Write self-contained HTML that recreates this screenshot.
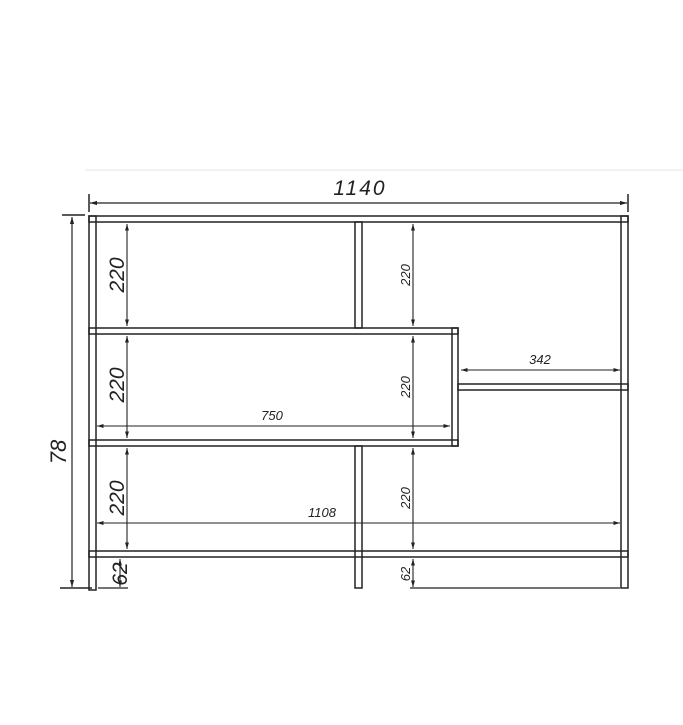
<!DOCTYPE html>
<html><head><style>body{margin:0;background:#fff}</style></head><body>
<svg width="683" height="720" viewBox="0 0 683 720" xmlns="http://www.w3.org/2000/svg" font-family="Liberation Sans, sans-serif" font-style="italic">
<defs>
<marker id="a" viewBox="0 0 10 10" refX="10" refY="5" markerWidth="6" markerHeight="6" orient="auto-start-reverse"><path d="M0,2 L10,5 L0,8 z" fill="#222"/></marker>
</defs>
<line x1="85" y1="170" x2="683" y2="170" stroke="#e6e6e6" stroke-width="1"/>
<g stroke="#222" stroke-width="1.5" fill="none">
<line x1="89" y1="194" x2="89" y2="212"/><line x1="628" y1="194" x2="628" y2="212"/>
<line x1="90" y1="203" x2="627" y2="203" marker-start="url(#a)" marker-end="url(#a)" stroke-width="1.2"/>
<line x1="62" y1="215" x2="85" y2="215"/><line x1="60" y1="588" x2="92" y2="588"/>
<line x1="72" y1="217" x2="72" y2="587" marker-start="url(#a)" marker-end="url(#a)" stroke-width="1.2"/>
<rect x="89" y="216" width="7" height="374"/>
<rect x="621" y="216" width="7" height="372"/>
<rect x="355" y="222" width="7" height="106"/>
<rect x="355" y="446" width="7" height="142"/>
<rect x="452" y="328" width="6" height="118"/>
<rect x="89" y="216" width="539" height="6"/>
<rect x="89" y="328" width="369" height="6"/>
<rect x="89" y="440" width="369" height="6"/>
<rect x="458" y="384" width="170" height="6"/>
<rect x="89" y="551" width="539" height="6"/>
</g>
<g stroke="#222" stroke-width="1.1" fill="none" marker-start="url(#a)" marker-end="url(#a)">
<line x1="127" y1="224" x2="127" y2="326"/><line x1="127" y1="336" x2="127" y2="438"/><line x1="127" y1="448" x2="127" y2="549"/>
<line x1="413" y1="224" x2="413" y2="326"/><line x1="413" y1="336" x2="413" y2="438"/><line x1="413" y1="448" x2="413" y2="549"/>
<line x1="120" y1="559" x2="120" y2="587"/><line x1="413" y1="559" x2="413" y2="587"/>
<line x1="97" y1="426" x2="450" y2="426"/>
<line x1="97" y1="523" x2="620" y2="523"/>
<line x1="461" y1="370" x2="620" y2="370"/>
</g>
<g stroke="#222" stroke-width="1.3">
<line x1="98" y1="588" x2="128" y2="588"/><line x1="410" y1="588" x2="620" y2="588"/>
</g>
<g fill="#222" font-size="21">
<text x="360" y="195" text-anchor="middle" letter-spacing="2">1140</text>
<text transform="translate(66,452) rotate(-90)" text-anchor="middle" font-size="22">78</text>
<text transform="translate(124,275) rotate(-90)" text-anchor="middle">220</text>
<text transform="translate(124,385) rotate(-90)" text-anchor="middle">220</text>
<text transform="translate(124,498) rotate(-90)" text-anchor="middle">220</text>
<text transform="translate(127,574) rotate(-90)" text-anchor="middle">62</text>
</g>
<g fill="#222" font-size="13">
<text transform="translate(410,275) rotate(-90)" text-anchor="middle">220</text>
<text transform="translate(410,387) rotate(-90)" text-anchor="middle">220</text>
<text transform="translate(410,498) rotate(-90)" text-anchor="middle">220</text>
<text transform="translate(410,574) rotate(-90)" text-anchor="middle">62</text>
<text x="272" y="420" text-anchor="middle">750</text>
<text x="322" y="517" text-anchor="middle">1108</text>
<text x="540" y="364" text-anchor="middle">342</text>
</g>
</svg>
</body></html>
